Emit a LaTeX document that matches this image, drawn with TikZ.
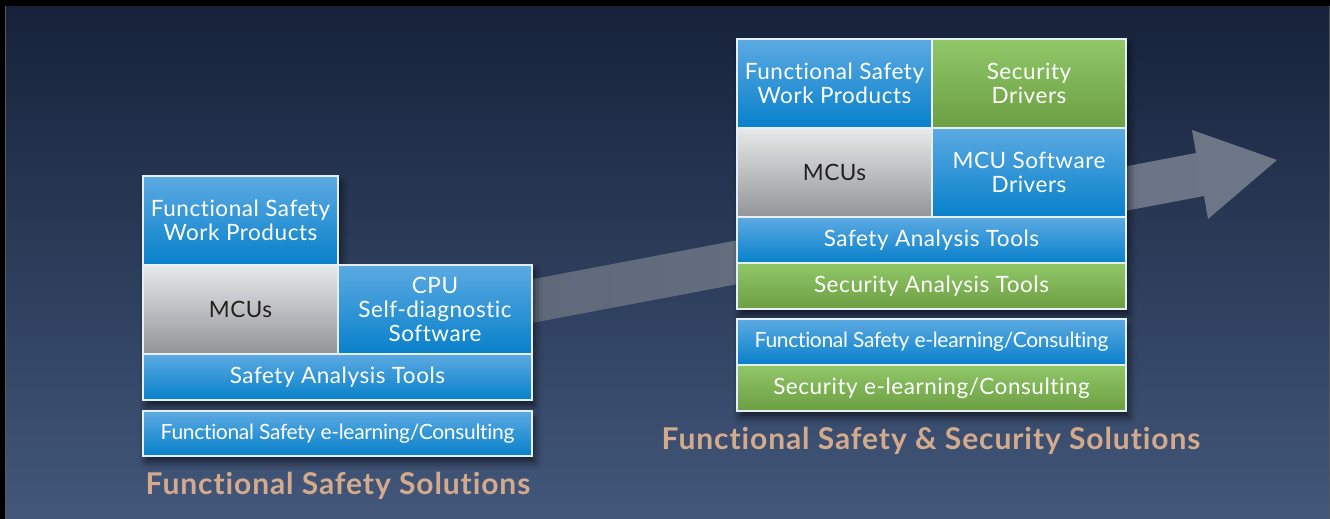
\documentclass[tikz,border=0pt]{standalone}
\usepackage{fontspec}
\setmainfont{Lato}[LetterSpace=2.5, Ligatures=NoCommon]
\newfontfamily\condfont{Lato}[LetterSpace=-1.5, Ligatures=NoCommon]
\newfontfamily\titlefont{Lato Bold}[LetterSpace=3, Ligatures=NoCommon]
\usetikzlibrary{shadows.blur}
\definecolor{bgtop}{HTML}{16223A}
\definecolor{bgbot}{HTML}{42577A}
\definecolor{bluetop}{HTML}{5CAAE2}
\definecolor{bluebot}{HTML}{0780CA}
\definecolor{greentop}{HTML}{90C868}
\definecolor{greenbot}{HTML}{6C9E42}
\definecolor{graytop}{HTML}{E8E9EB}
\definecolor{graybot}{HTML}{929497}
\definecolor{edgec}{HTML}{E6EEF6}
\definecolor{titlec}{HTML}{D4AA8C}
\definecolor{arrowl}{HTML}{5E6879}
\definecolor{arrowr}{HTML}{6E7788}
\definecolor{mcutext}{HTML}{231F20}
\definecolor{framegray}{HTML}{5A5A5A}
\tikzset{
  x=1pt, y=-1pt,
  cell/.style={draw=edgec, line width=1.3pt, inner sep=0pt, outer sep=0pt, align=center,
    font=\fontsize{22.5}{24}\selectfont, text=white},
  bluecell/.style={cell, top color=bluetop, bottom color=bluebot},
  greencell/.style={cell, top color=greentop, bottom color=greenbot},
  graycell/.style={cell, top color=graytop, bottom color=graybot, text=mcutext},
  smalltext/.style={font=\condfont\fontsize{21}{24}\selectfont},
  titletext/.style={font=\titlefont\fontsize{30}{32}\selectfont, text=titlec, anchor=base, inner sep=0pt},
  stackshadow/.style={blur shadow={shadow xshift=3pt, shadow yshift=-6pt, shadow blur radius=7pt, shadow opacity=60}},
}
\begin{document}
\begin{tikzpicture}
\useasboundingbox (0,0) rectangle (1330,519);
% frame and background
\fill[black] (0,0) rectangle (1330,519);
\fill[framegray] (5,6) rectangle (1330,519);
\shade[top color=bgtop, bottom color=bgbot] (6,7) rectangle (1329,519);

% arrow
\shade[left color=arrowl, right color=arrowr]
  (476,290) -- (1196,153) -- (1192,130) -- (1277,160) -- (1208,219) -- (1204,196) -- (484,332) -- cycle;

% shadows
\path[stackshadow, fill=bgbot] (143,176) -- (338,176) -- (338,265) -- (532,265) -- (532,400) -- (143,400) -- cycle;
\path[stackshadow, fill=bgbot] (143,411) rectangle (532,456);
\path[stackshadow, fill=bgbot] (737,39) rectangle (1126,309);
\path[stackshadow, fill=bgbot] (737,319) rectangle (1126,411);

% left stack
\node[bluecell, minimum width=195, minimum height=89] (lwp) at (240.5,220.5) {Functional Safety\\Work Products};
\node[graycell, minimum width=195, minimum height=89] (lmcu) at (240.5,309.5) {MCUs};
\node[bluecell, minimum width=194, minimum height=89] (lcpu) at (435,309.5) {CPU\\Self-diagnostic\\Software};
\node[bluecell, minimum width=389, minimum height=46] (lsat) at (337.5,377) {Safety Analysis Tools};
\node[bluecell, smalltext, minimum width=389, minimum height=45] (lel) at (337.5,433.5) {Functional Safety e-learning/Consulting};
\node[titletext] (ltitle) at (338,494.3) {Functional Safety Solutions};

% right stack
\node[bluecell, minimum width=195, minimum height=89] (rwp) at (834.5,83.5) {Functional Safety\\Work Products};
\node[greencell, minimum width=194, minimum height=89] (rsd) at (1029,83.5) {Security\\Drivers};
\node[graycell, minimum width=195, minimum height=89] (rmcu) at (834.5,172.5) {MCUs};
\node[bluecell, minimum width=194, minimum height=89] (rdrv) at (1029,172.5) {MCU Software\\Drivers};
\node[bluecell, minimum width=389, minimum height=46] (rsat) at (931.5,240) {Safety Analysis Tools};
\node[greencell, minimum width=389, minimum height=46] (rsec) at (931.5,286) {Security Analysis Tools};
\node[bluecell, smalltext, minimum width=389, minimum height=46] (rel) at (931.5,342) {Functional Safety e-learning/Consulting};
\node[greencell, minimum width=389, minimum height=46] (rsel) at (931.5,388) {Security e-learning/Consulting};
\node[titletext] (rtitle) at (931,449.3) {Functional Safety \& Security Solutions};
\end{tikzpicture}
\end{document}
